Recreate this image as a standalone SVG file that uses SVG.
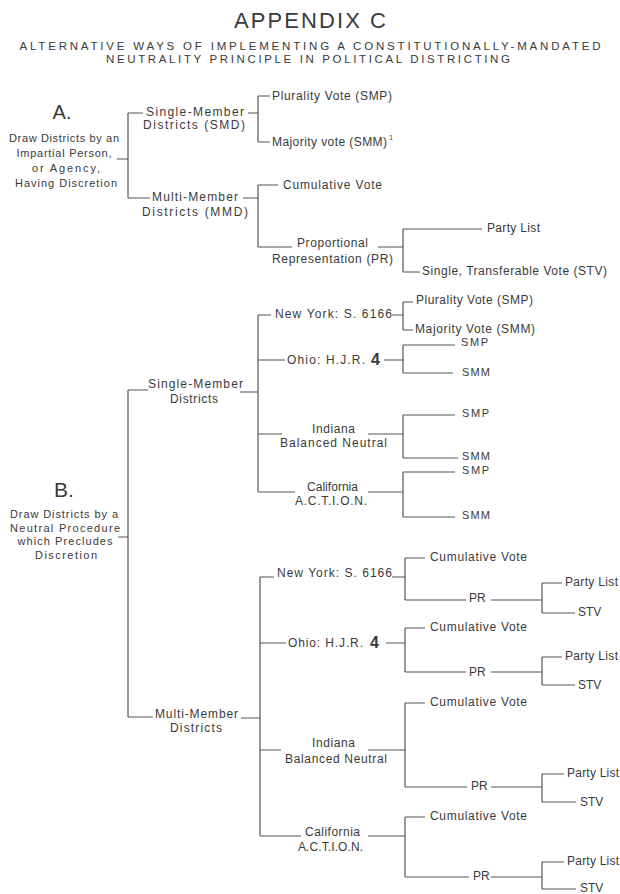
<svg xmlns="http://www.w3.org/2000/svg" width="620" height="894" viewBox="0 0 620 894">
<style>
text{font-family:"Liberation Sans",Arial,sans-serif;fill:#3a3a3a;font-size:12px}
.d{font-size:11px}
.s{font-size:11px}
.m{text-anchor:middle}
.big{font-size:20px}
.four{font-size:16px;font-weight:bold}
.ttl{font-size:22px}
.sub{font-size:11.5px}
#connectors path{fill:none;stroke:#555;stroke-width:1.2}
</style>
<rect width="620" height="894" fill="#fff"/>
<g id="title">
<text class="ttl m" x="310" y="28" textLength="152" lengthAdjust="spacing">APPENDIX C</text>
<text class="sub m" x="310" y="50" textLength="581" lengthAdjust="spacing">ALTERNATIVE WAYS OF IMPLEMENTING A CONSTITUTIONALLY-MANDATED</text>
<text class="sub m" x="308" y="63" textLength="404" lengthAdjust="spacing">NEUTRALITY PRINCIPLE IN POLITICAL DISTRICTING</text>
</g>
<g id="connectors">
<path d="M117,159H128M128,113V198M128,113H143M248,113H258M258,96V142M258,96H270M258,142H270M128,198H150M243,198H258M258,185V247M258,185H278M258,247H292M378,247H403M403,229V272M403,229H482M403,272H420"/>
<path d="M118,537H128M128,390V717M128,390H148M240,392H258M258,315V492M258,315H271M392,315H403M403,302V330M403,302H413M403,330H413M258,360H285M384,360H403M403,345V373M403,345H455M403,373H453M258,434H282M368,434H403M403,415V458M403,415H455M403,458H458M258,492H295M368,492H403M403,472V517M403,472H455M403,517H455"/>
<path d="M128,717H153M241,718H260M260,577V836M260,577H274M392,577H405M405,558V600M405,558H425M405,600H466M491,600H542M542,583V613M542,583H562M542,613H575M260,643H286M386,643H405M405,628V672M405,628H425M405,672H466M491,672H542M542,657V685M542,657H562M542,685H575M260,750H281M368,750H405M405,703V787M405,703H425M405,787H467M491,787H542M542,774V802M542,774H564M542,802H576M260,836H301M368,836H405M405,817V877M405,817H425M405,877H469M491,877H542M542,862V889M542,862H564M542,889H576"/>
</g>
<g id="a-root">
<text class="big m" x="62" y="119">A.</text>
<text class="d m" x="64" y="141.5" textLength="110" lengthAdjust="spacing">Draw Districts by an</text>
<text class="d m" x="64" y="156.5" textLength="95" lengthAdjust="spacing">Impartial Person,</text>
<text class="d m" x="66" y="171.5" textLength="68" lengthAdjust="spacing">or Agency,</text>
<text class="d m" x="66" y="186.5" textLength="102" lengthAdjust="spacing">Having Discretion</text>
</g>
<g id="a-smd">
<text x="146" y="116" textLength="98" lengthAdjust="spacing">Single-Member</text>
<text x="143" y="129" textLength="102" lengthAdjust="spacing">Districts (SMD)</text>
</g>
<g id="a-smp"><text x="272" y="100" textLength="120" lengthAdjust="spacing">Plurality Vote (SMP)</text></g>
<g id="a-smm"><text x="272" y="146" textLength="115" lengthAdjust="spacing">Majority vote (SMM)</text><text x="389" y="140" style="font-size:7px">1</text></g>
<g id="a-mmd">
<text x="152" y="201" textLength="86" lengthAdjust="spacing">Multi-Member</text>
<text x="142" y="216" textLength="106" lengthAdjust="spacing">Districts (MMD)</text>
</g>
<g id="a-cum"><text x="283" y="189" textLength="99" lengthAdjust="spacing">Cumulative Vote</text></g>
<g id="a-pr">
<text x="297" y="247" textLength="71" lengthAdjust="spacing">Proportional</text>
<text x="272" y="263" textLength="121" lengthAdjust="spacing">Representation (PR)</text>
</g>
<g id="a-pl"><text x="487" y="232" textLength="53" lengthAdjust="spacing">Party List</text></g>
<g id="a-stv"><text x="422" y="275" textLength="185" lengthAdjust="spacing">Single, Transferable Vote (STV)</text></g>

<g id="b-root">
<text class="big m" x="64" y="497" style="font-size:21px">B.</text>
<text class="d m" x="64" y="517.5" textLength="108" lengthAdjust="spacing">Draw Districts by a</text>
<text class="d m" x="65" y="531.5" textLength="110" lengthAdjust="spacing">Neutral Procedure</text>
<text class="d m" x="65" y="544.5" textLength="95" lengthAdjust="spacing">which Precludes</text>
<text class="d m" x="66" y="558.5" textLength="62" lengthAdjust="spacing">Discretion</text>
</g>
<g id="b-smd">
<text x="148" y="388" textLength="95" lengthAdjust="spacing">Single-Member</text>
<text x="170" y="403" textLength="48" lengthAdjust="spacing">Districts</text>
</g>
<g id="b-smd-ny"><text x="275" y="318" textLength="117" lengthAdjust="spacing">New York: S. 6166</text></g>
<g id="b-smd-ny-smp"><text x="416" y="304" textLength="117" lengthAdjust="spacing">Plurality Vote (SMP)</text></g>
<g id="b-smd-ny-smm"><text x="415" y="333" textLength="120" lengthAdjust="spacing">Majority Vote (SMM)</text></g>
<g id="b-smd-oh"><text x="287" y="364" textLength="78" lengthAdjust="spacing">Ohio: H.J.R.</text><text class="four" x="371" y="365">4</text></g>
<g id="b-smd-oh-smp"><text class="s" x="461" y="346" textLength="27" lengthAdjust="spacing">SMP</text></g>
<g id="b-smd-oh-smm"><text class="s" x="462" y="376" textLength="28" lengthAdjust="spacing">SMM</text></g>
<g id="b-smd-in">
<text x="312" y="433" textLength="43" lengthAdjust="spacing">Indiana</text>
<text x="280" y="447" textLength="107" lengthAdjust="spacing">Balanced Neutral</text>
</g>
<g id="b-smd-in-smp"><text class="s" x="462" y="417" textLength="27" lengthAdjust="spacing">SMP</text></g>
<g id="b-smd-in-smm"><text class="s" x="462" y="460" textLength="28" lengthAdjust="spacing">SMM</text></g>
<g id="b-smd-ca">
<text x="307" y="491" textLength="51" lengthAdjust="spacing">California</text>
<text x="295" y="505" textLength="72" lengthAdjust="spacing">A.C.T.I.O.N.</text>
</g>
<g id="b-smd-ca-smp"><text class="s" x="462" y="474" textLength="27" lengthAdjust="spacing">SMP</text></g>
<g id="b-smd-ca-smm"><text class="s" x="462" y="519" textLength="28" lengthAdjust="spacing">SMM</text></g>

<g id="b-mmd">
<text x="155" y="718" textLength="83" lengthAdjust="spacing">Multi-Member</text>
<text x="170" y="732" textLength="52" lengthAdjust="spacing">Districts</text>
</g>
<g id="b-mmd-ny"><text x="277" y="577" textLength="115" lengthAdjust="spacing">New York: S. 6166</text></g>
<g id="b-mmd-ny-cum"><text x="430" y="561" textLength="97" lengthAdjust="spacing">Cumulative Vote</text></g>
<g id="b-mmd-ny-pr"><text x="469" y="602">PR</text></g>
<g id="b-mmd-ny-pl"><text x="565" y="586" textLength="53" lengthAdjust="spacing">Party List</text></g>
<g id="b-mmd-ny-stv"><text x="578" y="616">STV</text></g>

<g id="b-mmd-oh"><text x="288" y="647" textLength="75" lengthAdjust="spacing">Ohio: H.J.R.</text><text class="four" x="370" y="648">4</text></g>
<g id="b-mmd-oh-cum"><text x="430" y="631" textLength="97" lengthAdjust="spacing">Cumulative Vote</text></g>
<g id="b-mmd-oh-pr"><text x="469" y="675.5">PR</text></g>
<g id="b-mmd-oh-pl"><text x="565" y="660" textLength="53" lengthAdjust="spacing">Party List</text></g>
<g id="b-mmd-oh-stv"><text x="578" y="689">STV</text></g>

<g id="b-mmd-in">
<text x="312" y="747" textLength="43" lengthAdjust="spacing">Indiana</text>
<text x="285" y="763" textLength="102" lengthAdjust="spacing">Balanced Neutral</text>
</g>
<g id="b-mmd-in-cum"><text x="430" y="706" textLength="97" lengthAdjust="spacing">Cumulative Vote</text></g>
<g id="b-mmd-in-pr"><text x="471" y="790">PR</text></g>
<g id="b-mmd-in-pl"><text x="567" y="777" textLength="52" lengthAdjust="spacing">Party List</text></g>
<g id="b-mmd-in-stv"><text x="580" y="806">STV</text></g>

<g id="b-mmd-ca">
<text x="305" y="836" textLength="55" lengthAdjust="spacing">California</text>
<text x="298" y="851" textLength="65" lengthAdjust="spacing">A.C.T.I.O.N.</text>
</g>
<g id="b-mmd-ca-cum"><text x="430" y="820" textLength="97" lengthAdjust="spacing">Cumulative Vote</text></g>
<g id="b-mmd-ca-pr"><text x="473" y="880">PR</text></g>
<g id="b-mmd-ca-pl"><text x="567" y="865" textLength="52" lengthAdjust="spacing">Party List</text></g>
<g id="b-mmd-ca-stv"><text x="580" y="892">STV</text></g>
</svg>
